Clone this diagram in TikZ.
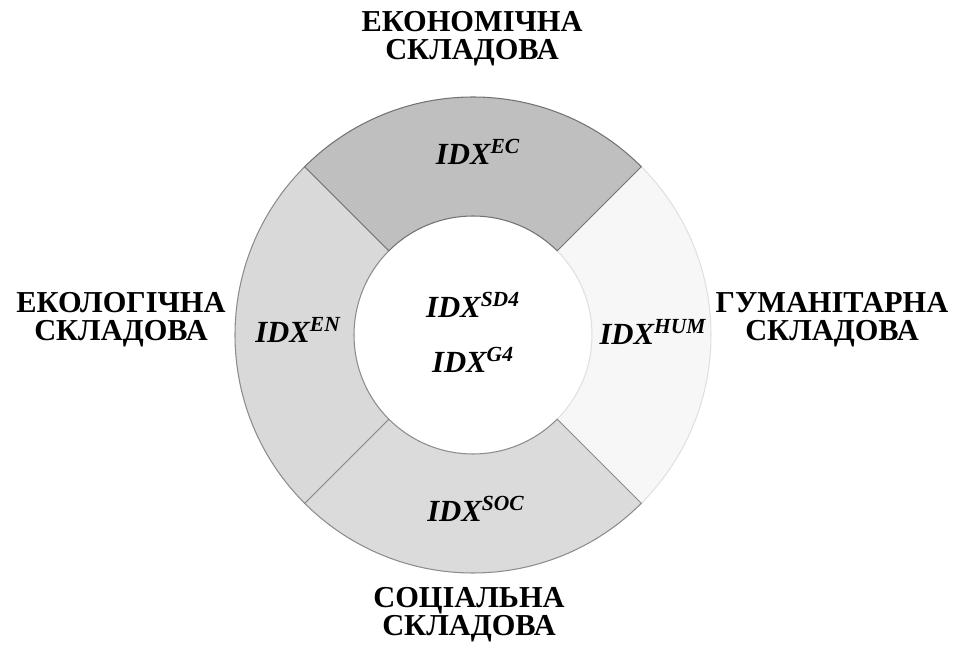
\documentclass[tikz,border=0pt]{standalone}
\usepackage{fontspec}
\setmainfont{Liberation Serif}
\usepackage{tikz}

\begin{document}
\begin{tikzpicture}[scale=0.02]
\tikzset{part/.style={align=center,font=\fontsize{17.3}{16}\selectfont\bfseries}}
\tikzset{idx/.style={font=\fontsize{17.5}{18}\selectfont\bfseries\itshape}}
\tikzset{seg/.style={draw=black!45,line width=0.6pt}}

\useasboundingbox (-473,-315) rectangle (483,335);

% ring segments
\draw[seg,draw=black!12,fill=black!3] (-45:238) arc (-45:45:238) -- (45:119) arc (45:-45:119) -- cycle;
\draw[seg,fill=black!14] (-135:238) arc (-135:-45:238) -- (-45:119) arc (-45:-135:119) -- cycle;
\draw[seg,fill=black!15] (135:238) arc (135:225:238) -- (225:119) arc (225:135:119) -- cycle;
\draw[seg,draw=black!55,fill=black!25] (45:238) arc (45:135:238) -- (135:119) arc (135:45:119) -- cycle;

\node[idx] (ecidx) at (5,183) {IDX\textsuperscript{EC}};
\node[idx] (enidx) at (-175,5) {IDX\textsuperscript{EN}};
\node[idx] (humidx) at (180,3) {IDX\textsuperscript{HUM}};
\node[idx] (socidx) at (3,-174) {IDX\textsuperscript{SOC}};
\node[idx] (sdidx) at (0,30) {IDX\textsuperscript{SD4}};
\node[idx] (gidx) at (0,-25) {IDX\textsuperscript{G4}};

\node[part] (ecname) at (-1,296) {ЕКОНОМІЧНА\\СКЛАДОВА};
\node[part] (enname) at (-352,15) {ЕКОЛОГІЧНА\\СКЛАДОВА};
\node[part] (humname) at (359,15) {ГУМАНІТАРНА\\СКЛАДОВА};
\node[part] (socname) at (-4,-280) {СОЦІАЛЬНА\\СКЛАДОВА};

\end{tikzpicture}
\end{document}
